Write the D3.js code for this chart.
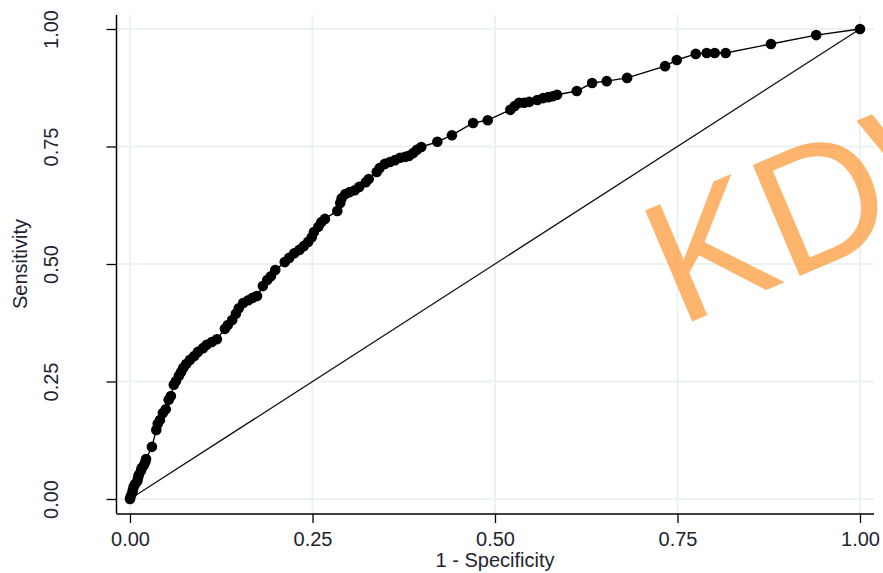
<!DOCTYPE html>
<html>
<head>
<meta charset="utf-8">
<script src="https://cdn.jsdelivr.net/npm/d3@7"></script>
<style>
  body { margin: 0; background: #fff; }
  text { font-family: "Liberation Sans", Arial, sans-serif; }
</style>
</head>
<body>
<svg id="roc"></svg>
<script>
// ROC curve points (1 - specificity, sensitivity)
const fpr = [0.000, 0.001, 0.003, 0.004, 0.005, 0.007, 0.010, 0.011, 0.012, 0.015,
  0.016, 0.019, 0.021, 0.022, 0.030, 0.036, 0.038, 0.041, 0.045, 0.049,
  0.053, 0.056, 0.060, 0.063, 0.067, 0.070, 0.073, 0.077, 0.082, 0.088,
  0.093, 0.100, 0.105, 0.112, 0.119, 0.130, 0.134, 0.140, 0.145, 0.149,
  0.155, 0.162, 0.168, 0.174, 0.182, 0.188, 0.193, 0.199, 0.212, 0.218,
  0.225, 0.232, 0.238, 0.244, 0.249, 0.252, 0.258, 0.262, 0.267, 0.284,
  0.288, 0.290, 0.295, 0.301, 0.308, 0.314, 0.323, 0.327, 0.338, 0.342,
  0.349, 0.356, 0.363, 0.370, 0.377, 0.382, 0.388, 0.393, 0.399, 0.421,
  0.441, 0.470, 0.490, 0.521, 0.527, 0.533, 0.540, 0.547, 0.558, 0.566,
  0.573, 0.579, 0.585, 0.612, 0.633, 0.653, 0.681, 0.733, 0.749, 0.775,
  0.790, 0.801, 0.816, 0.878, 0.940, 1.000];
const tpr = [0.000, 0.006, 0.013, 0.019, 0.026, 0.032, 0.038, 0.045, 0.051, 0.060,
  0.066, 0.072, 0.079, 0.085, 0.111, 0.147, 0.160, 0.168, 0.183, 0.191,
  0.211, 0.219, 0.243, 0.251, 0.262, 0.270, 0.279, 0.287, 0.296, 0.304,
  0.313, 0.321, 0.328, 0.334, 0.340, 0.362, 0.370, 0.381, 0.394, 0.406,
  0.417, 0.423, 0.428, 0.432, 0.453, 0.466, 0.474, 0.487, 0.504, 0.513,
  0.523, 0.530, 0.538, 0.547, 0.557, 0.568, 0.579, 0.589, 0.596, 0.613,
  0.630, 0.640, 0.649, 0.653, 0.657, 0.664, 0.674, 0.681, 0.696, 0.704,
  0.713, 0.717, 0.721, 0.726, 0.728, 0.730, 0.736, 0.743, 0.749, 0.760,
  0.774, 0.800, 0.806, 0.828, 0.836, 0.843, 0.843, 0.845, 0.849, 0.853,
  0.855, 0.857, 0.860, 0.868, 0.885, 0.889, 0.896, 0.921, 0.934, 0.947,
  0.949, 0.949, 0.949, 0.968, 0.987, 1.000];
const ticks = [0, 0.25, 0.5, 0.75, 1];
const refLine = [0, 1];
const xTitle = '1 - Specificity';
const yTitle = 'Sensitivity';
const watermark = 'KDW';

const width = 883, height = 573;
const svg = d3.select('#roc').attr('width', width).attr('height', height);

const x = d3.scaleLinear().domain([0, 1]).range([130, 860]);
const y = d3.scaleLinear().domain([0, 1]).range([499, 29]);
const plotL = 116.5, plotB = 514, plotR = 874, plotT = 15;

// grid
svg.append('g').selectAll('line')
  .data(ticks).enter().append('line')
  .attr('x1', d => x(d)).attr('x2', d => x(d))
  .attr('y1', plotT).attr('y2', plotB)
  .attr('stroke', '#eaf2f3').attr('stroke-width', 2);
svg.append('g').selectAll('line')
  .data(ticks).enter().append('line')
  .attr('x1', plotL).attr('x2', plotR)
  .attr('y1', d => y(d)).attr('y2', d => y(d))
  .attr('stroke', '#eaf2f3').attr('stroke-width', 2);

// axes
const fmt = d3.format('.2f');
const xAxis = svg.append('g')
  .attr('transform', `translate(0, ${plotB})`)
  .call(d3.axisBottom(x).tickValues(ticks).tickFormat(fmt).tickSize(9).tickPadding(9));
const yAxis = svg.append('g')
  .attr('transform', `translate(${plotL}, 0)`)
  .call(d3.axisLeft(y).tickValues(ticks).tickFormat(fmt).tickSize(10).tickPadding(0));

xAxis.select('.domain').attr('d', `M${plotL},0H${plotR}`);
yAxis.select('.domain').attr('d', `M0,${plotT}V${plotB - 0.5}`);
[xAxis, yAxis].forEach(a => {
  a.selectAll('.domain').attr('stroke', '#000').attr('stroke-width', 1.5);
  a.selectAll('.tick line').attr('stroke', '#000').attr('stroke-width', 1.3);
  a.selectAll('text').attr('font-size', 20).attr('fill', '#1e2430')
    .attr('font-family', '"Liberation Sans", Arial, sans-serif');
});
yAxis.selectAll('.tick text')
  .attr('x', null).attr('dy', null)
  .attr('text-anchor', 'middle')
  .attr('transform', 'translate(-59, 0) rotate(-90)');

// axis titles
svg.append('text')
  .attr('x', 495).attr('y', 567)
  .attr('text-anchor', 'middle')
  .attr('font-size', 20).attr('fill', '#1e2430')
  .text(xTitle);
svg.append('text')
  .attr('transform', 'translate(27, 264) rotate(-90)')
  .attr('text-anchor', 'middle')
  .attr('font-size', 20).attr('fill', '#1e2430')
  .text(yTitle);

// reference diagonal
svg.append('line')
  .attr('x1', x(refLine[0])).attr('y1', y(refLine[0]))
  .attr('x2', x(refLine[1])).attr('y2', y(refLine[1]))
  .attr('stroke', '#111').attr('stroke-width', 1.3);

// ROC curve
const pts = fpr.map((d, i) => ({ x: d, y: tpr[i] }));
svg.append('path')
  .datum(pts)
  .attr('fill', 'none')
  .attr('stroke', '#000')
  .attr('stroke-width', 1.4)
  .attr('d', d3.line().x(d => x(d.x)).y(d => y(d.y)));
svg.append('g').selectAll('circle')
  .data(pts).enter().append('circle')
  .attr('cx', d => x(d.x)).attr('cy', d => y(d.y))
  .attr('r', 5.3)
  .attr('fill', '#000');

// watermark
svg.append('text')
  .attr('transform', 'translate(679, 327) rotate(-23)')
  .attr('font-size', 175)
  .attr('fill', '#fc8c1f')
  .attr('fill-opacity', 0.65)
  .text(watermark);
</script>
</body>
</html>
